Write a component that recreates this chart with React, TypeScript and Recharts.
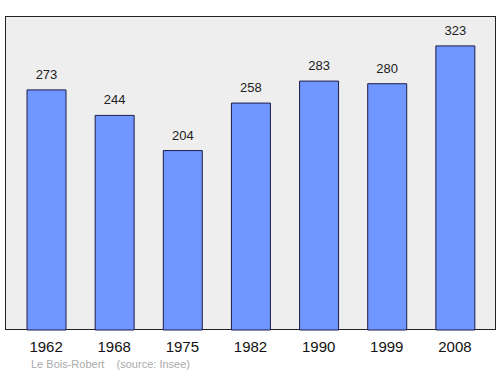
import React from 'react';
import { BarChart, Bar, XAxis, YAxis, LabelList } from 'recharts';

// recensements de Le Bois-Robert
const years = ['1962', '1968', '1975', '1982', '1990', '1999', '2008'];
const population = [273, 244, 204, 258, 283, 280, 323];

const data = years.map((year, i) => ({ year, pop: population[i] }));

const W = 500;
const H = 374;
const AXIS_H = 30;
const plot = { left: 5, top: 16, right: 4, bottom: 44 };

export default function App() {
  return (
    <div style={{ position: 'absolute', left: 0, top: 0, width: W, height: H, background: '#fff', fontFamily: '"Liberation Sans", Arial, sans-serif' }}>
      {/* fond gris + cadre de la zone du graphique */}
      <div
        style={{
          position: 'absolute',
          left: plot.left,
          top: plot.top,
          width: W - plot.left - plot.right,
          height: H - plot.top - plot.bottom,
          background: '#eeeeee',
          border: '1.5px solid #222',
          boxSizing: 'border-box',
        }}
      />
      <div style={{ position: 'absolute', left: 0, top: 0 }}>
        <BarChart width={W} height={H} data={data} margin={{ ...plot, bottom: plot.bottom - AXIS_H }}>
          <XAxis
            dataKey="year"
            height={AXIS_H}
            axisLine={false}
            tickLine={false}
            tickMargin={5}
            padding={{ left: 7, right: 7 }}
            tick={{ fill: '#111', fontSize: 15 }}
            interval={0}
          />
          <YAxis hide domain={[0, 357]} />
          <Bar dataKey="pop" fill="#7096ff" stroke="#1c1c48" strokeWidth={1} barSize={39} isAnimationActive={false}>
            <LabelList dataKey="pop" position="top" offset={11} fill="#222" fontSize={13} />
          </Bar>
        </BarChart>
      </div>
      <div style={{ position: 'absolute', left: 31, top: 358, fontSize: 11, color: '#aaa', whiteSpace: 'pre' }}>
        {'Le Bois-Robert    (source: Insee)'}
      </div>
    </div>
  );
}
